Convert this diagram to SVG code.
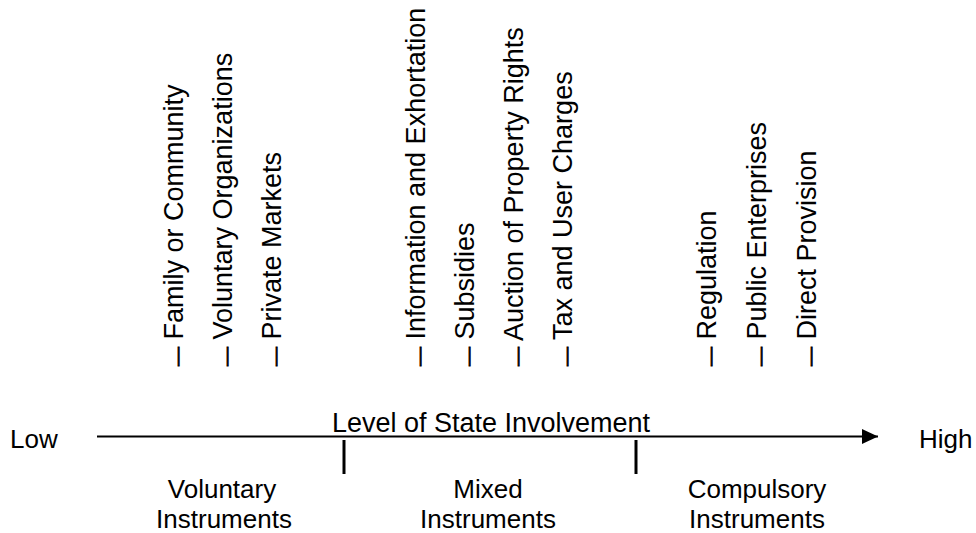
<svg xmlns="http://www.w3.org/2000/svg" width="976" height="533" viewBox="0 0 976 533">
  <style>
    text { font-family: "Liberation Sans", Arial, Helvetica, sans-serif; fill: #000; }
    .lbl { font-size: 26px; }
    .item { font-size: 27px; }
    .dash { font-size: 19px; stroke: #000; stroke-width: 0.8; }
    .mid { text-anchor: middle; }
    .axis { stroke: #000; stroke-width: 2; fill: none; }
    .tick { stroke: #000; stroke-width: 3; }
  </style>
  <defs>
    <marker id="arrowhead" markerUnits="userSpaceOnUse" markerWidth="17" markerHeight="16" refX="16" refY="7.5" orient="auto">
      <path d="M0,0 L16,7.5 L0,15 Z" fill="#000"/>
    </marker>
  </defs>

  <rect width="976" height="533" fill="#fff"/>

  <!-- policy instruments, read bottom to top -->
  <g id="instruments">
    <g id="item-family"><text class="item" transform="translate(183,366) rotate(-90)"><tspan class="dash">—</tspan> Family or Community</text></g>
    <g id="item-voluntary-org"><text class="item" transform="translate(232,366) rotate(-90)"><tspan class="dash">—</tspan> Voluntary Organizations</text></g>
    <g id="item-private-markets"><text class="item" transform="translate(281,366) rotate(-90)"><tspan class="dash">—</tspan> Private Markets</text></g>
    <g id="item-information"><text class="item" transform="translate(425,366) rotate(-90)"><tspan class="dash">—</tspan> Information and Exhortation</text></g>
    <g id="item-subsidies"><text class="item" transform="translate(474,366) rotate(-90)"><tspan class="dash">—</tspan> Subsidies</text></g>
    <g id="item-auction"><text class="item" transform="translate(523,366) rotate(-90)"><tspan class="dash">—</tspan> Auction of Property Rights</text></g>
    <g id="item-tax"><text class="item" transform="translate(572,366) rotate(-90)"><tspan class="dash">—</tspan> Tax and User Charges</text></g>
    <g id="item-regulation"><text class="item" transform="translate(716,366) rotate(-90)"><tspan class="dash">—</tspan> Regulation</text></g>
    <g id="item-public-enterprises"><text class="item" transform="translate(766,366) rotate(-90)"><tspan class="dash">—</tspan> Public Enterprises</text></g>
    <g id="item-direct-provision"><text class="item" transform="translate(816,366) rotate(-90)"><tspan class="dash">—</tspan> Direct Provision</text></g>
  </g>

  <!-- scale axis and category dividers -->
  <g id="connectors">
    <line class="axis" x1="97" y1="436.5" x2="878" y2="436.5" marker-end="url(#arrowhead)"/>
    <line class="tick" x1="344" y1="440" x2="344" y2="474"/>
    <line class="tick" x1="636" y1="440" x2="636" y2="474"/>
  </g>

  <g id="axis-labels">
    <text class="lbl" x="10" y="448">Low</text>
    <text class="lbl" x="919" y="448">High</text>
    <text class="mid" x="491" y="432" font-size="27">Level of State Involvement</text>
  </g>

  <g id="cat-voluntary">
    <text class="lbl mid" x="222" y="498">Voluntary</text>
    <text class="lbl mid" x="224" y="528">Instruments</text>
  </g>
  <g id="cat-mixed">
    <text class="lbl mid" x="488" y="498">Mixed</text>
    <text class="lbl mid" x="488" y="528">Instruments</text>
  </g>
  <g id="cat-compulsory">
    <text class="lbl mid" x="757" y="498">Compulsory</text>
    <text class="lbl mid" x="757" y="528">Instruments</text>
  </g>
</svg>
